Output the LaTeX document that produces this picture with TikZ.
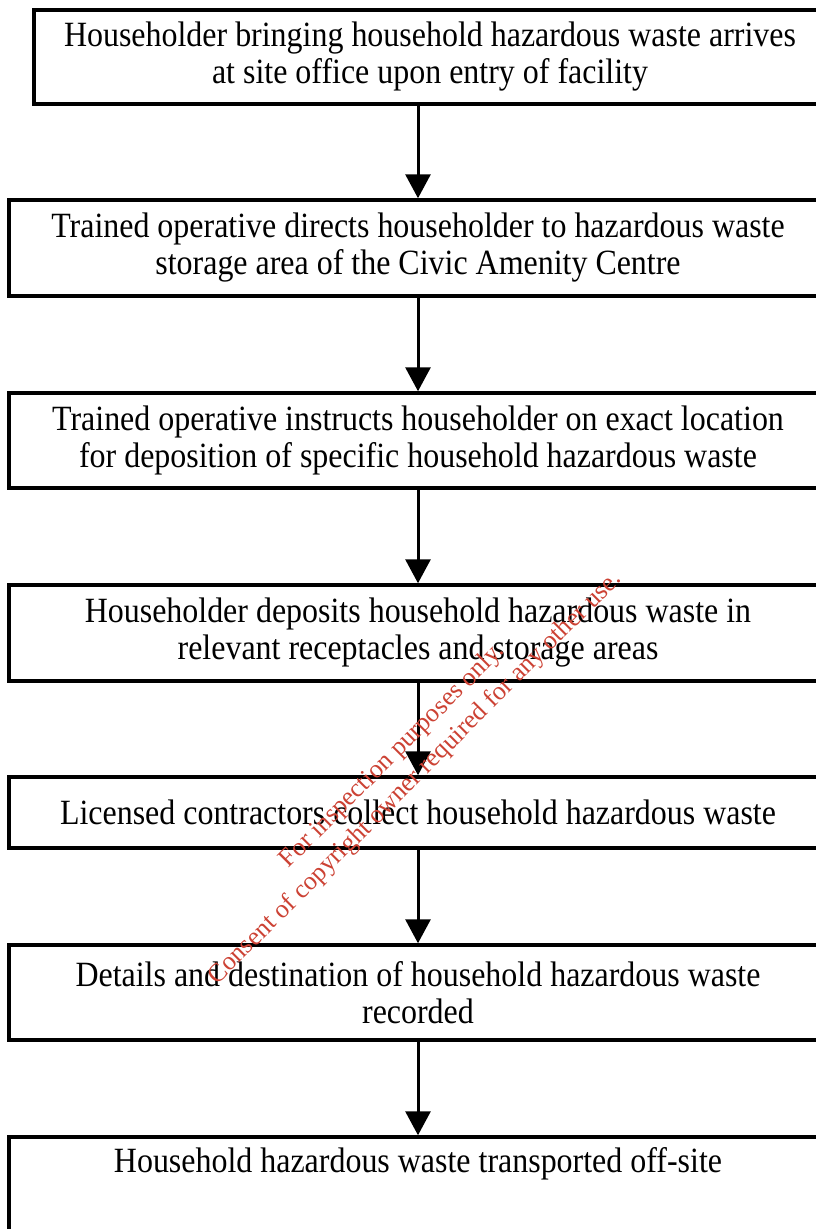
\documentclass[tikz,border=0pt]{standalone}
\usepackage{fontspec}
\setmainfont{Liberation Serif}
\newfontfamily\stepfont{Liberation Serif}[FakeStretch=0.9]
\usepackage{xcolor}
\usepackage{tikz}
\usetikzlibrary{arrows.meta}

\definecolor{wmred}{RGB}{204,66,52}

\begin{document}
\begin{tikzpicture}[
    x=1pt, y=-1pt,
    stepbox/.style={draw, line width=3.5pt, align=center, inner sep=0pt,
      font=\stepfont\fontsize{35.5}{37}\selectfont},
    flowarrow/.style={line width=3pt, -{Triangle[width=25pt,length=24pt]}},
    watermark/.style={text=wmred, rotate=45, align=center,
      font=\fontsize{26}{32}\selectfont}
  ]

    \useasboundingbox (0, 0) rectangle (816, 1229);
    \clip (0, 0) rectangle (816, 1229);

    % process steps
    \node [stepbox, minimum width=792, minimum height=94] (b1) at (430, 57)
    {Householder bringing household hazardous waste arrives\\
      at site office upon entry of facility};
    \node [stepbox, minimum width=818, minimum height=96] (b2) at (418, 248)
    {Trained operative directs householder to hazardous waste\\
      storage area of the Civic Amenity Centre};
    \node [stepbox, minimum width=818, minimum height=95] (b3) at (418, 440.5)
    {Trained operative instructs householder on exact location\\
      for deposition of specific household hazardous waste};
    \node [stepbox, minimum width=818, minimum height=96] (b4) at (418, 633)
    {Householder deposits household hazardous waste in\\
      relevant receptacles and storage areas};
    \node [stepbox, minimum width=818, minimum height=71] (b5) at (418, 812.5)
    {Licensed contractors collect household hazardous waste};
    \node [stepbox, minimum width=818, minimum height=95] (b6) at (418, 992.5)
    {Details and destination of household hazardous waste\\
      recorded};
    \node [stepbox, minimum width=818, minimum height=132] (b7) at (418, 1203)
    {Household hazardous waste transported off-site\\ \strut\\ \strut};

    \foreach \i [evaluate=\i as \ip using int(\i+1)] in {1, ..., 6} {
      \draw [flowarrow] (b\ip.north |- b\i.south) -- (b\ip.north);
    }

    % stamp
    \node [watermark] (stamp) at (404, 767)
    {For inspection purposes only.\\
      Consent of copyright owner required for any other use.};

  \end{tikzpicture}
\end{document}
